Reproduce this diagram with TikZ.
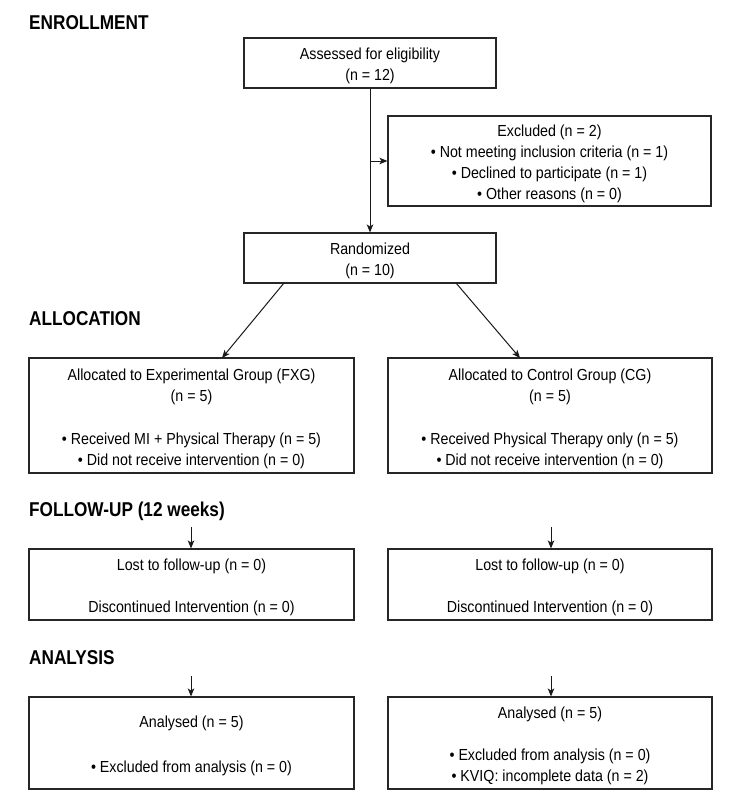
\documentclass[tikz,border=0pt]{standalone}
\usepackage{fontspec}
\setmainfont{Liberation Sans}[FakeStretch=0.89]
\newfontfamily\titlefont{Liberation Sans}[FakeStretch=0.86]
\usetikzlibrary{arrows.meta}
\newcommand\topstrt{\rule{0pt}{18pt}}
\begin{document}
\begin{tikzpicture}[x=1pt,y=-1pt,
  box/.style={draw=black!85, line width=1.1pt, rectangle, inner sep=0pt, align=center,
    font=\fontsize{16}{21}\selectfont, text=black},
  sectitle/.style={anchor=base west, inner sep=0pt, font=\titlefont\bfseries\fontsize{20}{24}\selectfont},
  conn/.style={draw=black!90, line width=1pt},
  arr/.style={conn, -{Stealth[length=8pt,width=6.5pt,inset=2pt]}}
]
\useasboundingbox (0,0) rectangle (753,800);

% section titles
\node[sectitle] (tEnr) at (29,30) {ENROLLMENT};
\node[sectitle] (tAll) at (29,325) {ALLOCATION};
\node[sectitle] (tFol) at (29,516) {FOLLOW-UP (12 weeks)};
\node[sectitle] (tAna) at (29,664) {ANALYSIS};

% enrollment
\node[box, minimum width=252pt, minimum height=50pt] (assess) at (370,63)
  {\topstrt Assessed for eligibility\\(n = 12)};
\node[box, minimum width=323pt, minimum height=90pt] (excl) at (549.5,161)
  {\topstrt Excluded (n = 2)\\\textbullet\ Not meeting inclusion criteria (n = 1)\\\textbullet\ Declined to participate (n = 1)\\\textbullet\ Other reasons (n = 0)};
\node[box, minimum width=252pt, minimum height=50pt] (rand) at (370,258)
  {\topstrt Randomized\\(n = 10)};

% allocation
\node[box, minimum width=325pt, minimum height=115pt] (allocE) at (191.5,415.5)
  {\topstrt Allocated to Experimental Group (FXG)\\(n = 5)\\[22pt]\textbullet\ Received MI + Physical Therapy (n = 5)\\\textbullet\ Did not receive intervention (n = 0)};
\node[box, minimum width=324pt, minimum height=115pt] (allocC) at (550,415.5)
  {\topstrt Allocated to Control Group (CG)\\(n = 5)\\[22pt]\textbullet\ Received Physical Therapy only (n = 5)\\\textbullet\ Did not receive intervention (n = 0)};

% follow-up
\node[box, minimum width=325pt, minimum height=71pt] (folE) at (191.5,584.5)
  {\topstrt Lost to follow-up (n = 0)\\[21pt]Discontinued Intervention (n = 0)};
\node[box, minimum width=324pt, minimum height=71pt] (folC) at (550,584.5)
  {\topstrt Lost to follow-up (n = 0)\\[21pt]Discontinued Intervention (n = 0)};

% analysis
\node[box, minimum width=325pt, minimum height=92pt] (anaE) at (191.5,743)
  {\topstrt Analysed (n = 5)\\[24pt]\textbullet\ Excluded from analysis (n = 0)};
\node[box, minimum width=324pt, minimum height=92pt] (anaC) at (550,743)
  {\topstrt Analysed (n = 5)\\[21pt]\textbullet\ Excluded from analysis (n = 0)\\\textbullet\ KVIQ: incomplete data (n = 2)};

% connectors
\coordinate (branch) at (370,161);
\draw[arr] (assess.south) -- (rand.north);
\draw[arr] (branch) -- (excl.west);
\coordinate (rL) at (284,283);
\coordinate (rR) at (456,283);
\coordinate (aL) at (222,358);
\coordinate (aR) at (520,358);
\draw[arr] (rL) -- (aL);
\draw[arr] (rR) -- (aR);
\coordinate (fEs) at (191,527);
\coordinate (fCs) at (551,527);
\draw[arr] (fEs) -- (fEs |- folE.north);
\draw[arr] (fCs) -- (fCs |- folC.north);
\coordinate (aEs) at (191,676);
\coordinate (aCs) at (551,676);
\draw[arr] (aEs) -- (aEs |- anaE.north);
\draw[arr] (aCs) -- (aCs |- anaC.north);
\end{tikzpicture}
\end{document}
